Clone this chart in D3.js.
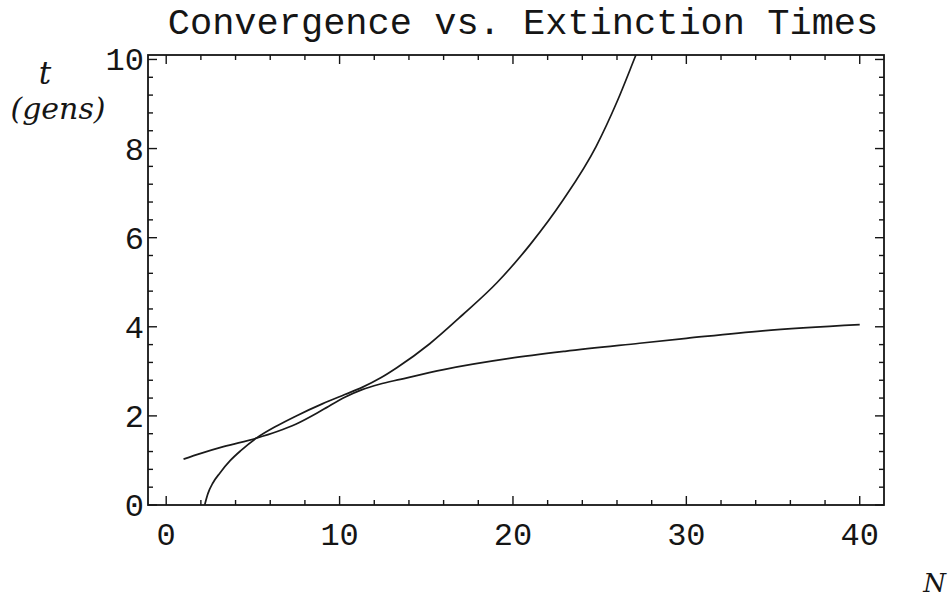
<!DOCTYPE html>
<html>
<head>
<meta charset="utf-8">
<script src="https://cdn.jsdelivr.net/npm/d3@7"></script>
<style>
    body { margin: 0; background: #fff; }
    .tick-label { font-family: "Liberation Mono", "Courier New", monospace; font-size: 32px; fill: #151515; }
    .axis-name { font-family: "DejaVu Serif", serif; font-style: italic; fill: #151515; }
</style>
</head>
<body>
<div id="chart"></div>
<script>
// N (population size) vs t (gens)
var extinctionN = [2.22, 2.4, 2.7, 3.1, 3.7, 4.3, 5.2, 6.4, 7.5, 9.0, 10.3, 11.3, 12.4, 13.3, 15.2, 17.1, 19.1, 21.0, 22.9, 24.8, 26.0, 27.05, 27.4];
var extinctionT = [0.0, 0.25, 0.50, 0.72, 1.00, 1.22, 1.50, 1.78, 2.00, 2.27, 2.48, 2.64, 2.86, 3.08, 3.62, 4.27, 5.00, 5.85, 6.85, 8.05, 9.05, 10.06, 10.4];

var convergenceN = [1, 2, 3.3, 5.2, 6.4, 7.5, 9.0, 10.3, 11.3, 12.3, 13.5, 16, 19.8, 23, 27.3, 30, 34.4, 40];
var convergenceT = [1.03, 1.16, 1.31, 1.50, 1.65, 1.82, 2.13, 2.42, 2.59, 2.71, 2.82, 3.04, 3.29, 3.45, 3.63, 3.74, 3.91, 4.05];

var xMajor = [0, 10, 20, 30, 40];
var yMajor = [0, 2, 4, 6, 8, 10];

var titleText = "Convergence vs. Extinction Times";

function chart(parent) {
    var _width = 949, _height = 603;
    var _left = 148, _right = 884, _top = 55, _bottom = 505;
    var _major = 9, _minor = 5;

    var svg = d3.select(parent).append("svg")
        .attr("width", _width)
        .attr("height", _height);

    var x = d3.scaleLinear().domain([-1.05, 41.4]).range([_left, _right]);
    var y = d3.scaleLinear().domain([0, 10.1]).range([_bottom, _top]);

    svg.append("defs").append("clipPath")
        .attr("id", "plotClip")
        .append("rect")
        .attr("x", _left)
        .attr("y", _top)
        .attr("width", _right - _left)
        .attr("height", _bottom - _top);

    // minor ticks every 2 on N, every 0.4 on t
    var xMinor = d3.range(0, 41, 2).filter(function(d) { return xMajor.indexOf(d) < 0; });
    var yMinor = d3.range(0, 10.01, 0.4).filter(function(d) {
        return yMajor.every(function(m) { return Math.abs(m - d) > 0.01; });
    });

    var ticks = svg.append("g")
        .attr("stroke", "#151515")
        .attr("stroke-width", 1.4);

    function xTicks(values, len) {
        values.forEach(function(d) {
            ticks.append("line").attr("x1", x(d)).attr("x2", x(d)).attr("y1", _bottom).attr("y2", _bottom - len);
            ticks.append("line").attr("x1", x(d)).attr("x2", x(d)).attr("y1", _top).attr("y2", _top + len);
        });
    }
    function yTicks(values, len) {
        values.forEach(function(d) {
            ticks.append("line").attr("x1", _left).attr("x2", _left + len).attr("y1", y(d)).attr("y2", y(d));
            ticks.append("line").attr("x1", _right).attr("x2", _right - len).attr("y1", y(d)).attr("y2", y(d));
        });
    }
    xTicks(xMajor, _major);
    xTicks(xMinor, _minor);
    yTicks(yMajor, _major);
    yTicks(yMinor, _minor);

    svg.append("rect")
        .attr("x", _left)
        .attr("y", _top)
        .attr("width", _right - _left)
        .attr("height", _bottom - _top)
        .attr("fill", "none")
        .attr("stroke", "#151515")
        .attr("stroke-width", 1.8);

    svg.selectAll(".xlab")
        .data(xMajor)
        .enter().append("text")
        .attr("class", "tick-label")
        .attr("x", function(d) { return x(d); })
        .attr("y", 545)
        .attr("text-anchor", "middle")
        .text(function(d) { return d; });

    svg.selectAll(".ylab")
        .data(yMajor)
        .enter().append("text")
        .attr("class", "tick-label")
        .attr("x", _left - 4)
        .attr("y", function(d) { return y(d) + 11; })
        .attr("text-anchor", "end")
        .text(function(d) { return d; });

    var line = d3.line()
        .x(function(d) { return x(d[0]); })
        .y(function(d) { return y(d[1]); })
        .curve(d3.curveMonotoneX);

    var curves = svg.append("g").attr("clip-path", "url(#plotClip)");

    curves.append("path")
        .datum(d3.zip(extinctionN, extinctionT))
        .attr("d", line)
        .attr("fill", "none")
        .attr("stroke", "#1a1a1a")
        .attr("stroke-width", 1.7);

    curves.append("path")
        .datum(d3.zip(convergenceN, convergenceT))
        .attr("d", line)
        .attr("fill", "none")
        .attr("stroke", "#1a1a1a")
        .attr("stroke-width", 1.7);

    svg.append("text")
        .attr("class", "tick-label")
        .attr("x", 523)
        .attr("y", 34)
        .attr("text-anchor", "middle")
        .style("font-size", "37px")
        .text(titleText);

    svg.append("text")
        .attr("class", "axis-name")
        .attr("x", 45)
        .attr("y", 84)
        .attr("text-anchor", "middle")
        .style("font-size", "31px")
        .text("t");

    svg.append("text")
        .attr("class", "axis-name")
        .attr("x", 58)
        .attr("y", 119)
        .attr("text-anchor", "middle")
        .style("font-size", "30px")
        .text("(gens)");

    svg.append("text")
        .attr("class", "axis-name")
        .attr("x", 946)
        .attr("y", 592)
        .attr("text-anchor", "end")
        .style("font-size", "26px")
        .text("N");
}

chart("#chart");
</script>
</body>
</html>
